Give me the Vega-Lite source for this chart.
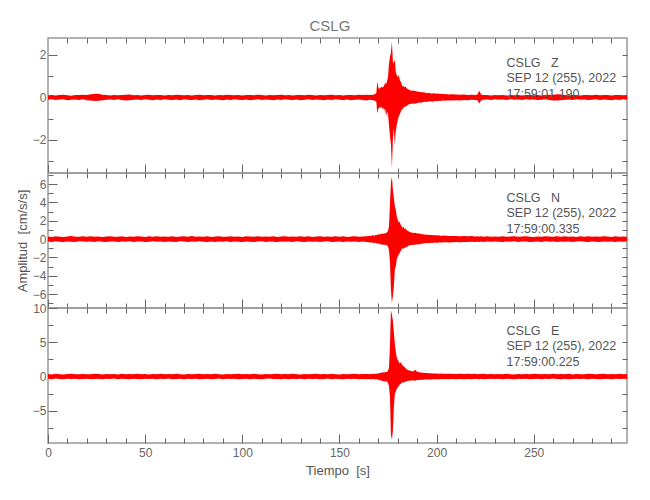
{
"$schema": "https://vega.github.io/schema/vega-lite/v6.json",
"padding": {"left": 15, "top": 18, "right": 23, "bottom": 5},
"background": "white",
"title": {"text": "CSLG", "fontSize": 15, "color": "#777", "fontWeight": "normal", "font": "Liberation Sans, sans-serif", "anchor": "middle", "offset": 3, "dx": 8},
"spacing": 0,
"bounds": "flush",
"config": {
  "view": {"stroke": "#999", "strokeWidth": 1.5},
  "axis": {"domain": false, "grid": false, "tickColor": "#666", "tickWidth": 1, "labelColor": "#666", "labelFont": "Liberation Sans, sans-serif", "labelFontSize": 12, "labelFlush": false, "labelOverlap": false, "titleFont": "Liberation Sans, sans-serif", "titleFontSize": 13, "titleFontWeight": "normal", "titleColor": "#555"}
},
"datasets": {
"w": [
{"t":0,"zl":-0.11,"zh":0.10,"nl":-0.26,"nh":0.28,"el":-0.34,"eh":0.36},
{"t":2,"zl":-0.09,"zh":0.12,"nl":-0.30,"nh":0.24,"el":-0.38,"eh":0.31},
{"t":4,"zl":-0.12,"zh":0.09,"nl":-0.23,"nh":0.31,"el":-0.30,"eh":0.39},
{"t":6,"zl":-0.10,"zh":0.11,"nl":-0.29,"nh":0.26,"el":-0.36,"eh":0.33},
{"t":8,"zl":-0.08,"zh":0.13,"nl":-0.32,"nh":0.22,"el":-0.40,"eh":0.29},
{"t":10,"zl":-0.13,"zh":0.10,"nl":-0.25,"nh":0.29,"el":-0.33,"eh":0.37},
{"t":12,"zl":-0.11,"zh":0.08,"nl":-0.28,"nh":0.33,"el":-0.37,"eh":0.41},
{"t":14,"zl":-0.10,"zh":0.12,"nl":-0.31,"nh":0.25,"el":-0.31,"eh":0.34},
{"t":16,"zl":-0.12,"zh":0.11,"nl":-0.24,"nh":0.27,"el":-0.39,"eh":0.32},
{"t":18,"zl":-0.09,"zh":0.13,"nl":-0.27,"nh":0.30,"el":-0.35,"eh":0.38},
{"t":20,"zl":-0.13,"zh":0.12,"nl":-0.29,"nh":0.27,"el":-0.32,"eh":0.35},
{"t":22,"zl":-0.14,"zh":0.15,"nl":-0.26,"nh":0.31,"el":-0.38,"eh":0.33},
{"t":24,"zl":-0.17,"zh":0.16,"nl":-0.30,"nh":0.26,"el":-0.36,"eh":0.40},
{"t":26,"zl":-0.16,"zh":0.17,"nl":-0.24,"nh":0.29,"el":-0.31,"eh":0.36},
{"t":28,"zl":-0.13,"zh":0.13,"nl":-0.28,"nh":0.24,"el":-0.39,"eh":0.31},
{"t":30,"zl":-0.11,"zh":0.12,"nl":-0.31,"nh":0.28,"el":-0.34,"eh":0.38},
{"t":32,"zl":-0.10,"zh":0.09,"nl":-0.25,"nh":0.32,"el":-0.37,"eh":0.33},
{"t":34,"zl":-0.12,"zh":0.11,"nl":-0.27,"nh":0.25,"el":-0.30,"eh":0.36},
{"t":36,"zl":-0.09,"zh":0.10,"nl":-0.32,"nh":0.27,"el":-0.40,"eh":0.30},
{"t":38,"zl":-0.12,"zh":0.12,"nl":-0.26,"nh":0.30,"el":-0.33,"eh":0.39},
{"t":40,"zl":-0.14,"zh":0.13,"nl":-0.29,"nh":0.24,"el":-0.36,"eh":0.34},
{"t":42,"zl":-0.13,"zh":0.14,"nl":-0.23,"nh":0.29,"el":-0.38,"eh":0.37},
{"t":44,"zl":-0.11,"zh":0.10,"nl":-0.30,"nh":0.26,"el":-0.32,"eh":0.32},
{"t":46,"zl":-0.10,"zh":0.12,"nl":-0.27,"nh":0.31,"el":-0.35,"eh":0.40},
{"t":48,"zl":-0.12,"zh":0.09,"nl":-0.25,"nh":0.28,"el":-0.39,"eh":0.35},
{"t":50,"zl":-0.09,"zh":0.11,"nl":-0.31,"nh":0.23,"el":-0.31,"eh":0.38},
{"t":52,"zl":-0.11,"zh":0.13,"nl":-0.28,"nh":0.30,"el":-0.37,"eh":0.31},
{"t":54,"zl":-0.13,"zh":0.10,"nl":-0.24,"nh":0.27,"el":-0.34,"eh":0.36},
{"t":56,"zl":-0.10,"zh":0.12,"nl":-0.29,"nh":0.32,"el":-0.40,"eh":0.33},
{"t":58,"zl":-0.12,"zh":0.11,"nl":-0.26,"nh":0.25,"el":-0.33,"eh":0.39},
{"t":60,"zl":-0.09,"zh":0.09,"nl":-0.32,"nh":0.29,"el":-0.36,"eh":0.34},
{"t":62,"zl":-0.11,"zh":0.12,"nl":-0.25,"nh":0.26,"el":-0.30,"eh":0.37},
{"t":64,"zl":-0.12,"zh":0.10,"nl":-0.28,"nh":0.31,"el":-0.38,"eh":0.32},
{"t":66,"zl":-0.10,"zh":0.13,"nl":-0.30,"nh":0.24,"el":-0.35,"eh":0.40},
{"t":68,"zl":-0.13,"zh":0.11,"nl":-0.23,"nh":0.28,"el":-0.32,"eh":0.35},
{"t":70,"zl":-0.09,"zh":0.10,"nl":-0.27,"nh":0.30,"el":-0.39,"eh":0.31},
{"t":72,"zl":-0.11,"zh":0.12,"nl":-0.31,"nh":0.27,"el":-0.34,"eh":0.38},
{"t":74,"zl":-0.12,"zh":0.09,"nl":-0.26,"nh":0.33,"el":-0.37,"eh":0.33},
{"t":76,"zl":-0.10,"zh":0.11,"nl":-0.29,"nh":0.25,"el":-0.31,"eh":0.36},
{"t":78,"zl":-0.13,"zh":0.13,"nl":-0.24,"nh":0.29,"el":-0.40,"eh":0.39},
{"t":80,"zl":-0.11,"zh":0.10,"nl":-0.28,"nh":0.26,"el":-0.35,"eh":0.32},
{"t":82,"zl":-0.09,"zh":0.12,"nl":-0.32,"nh":0.31,"el":-0.33,"eh":0.37},
{"t":84,"zl":-0.12,"zh":0.11,"nl":-0.25,"nh":0.24,"el":-0.38,"eh":0.34},
{"t":86,"zl":-0.10,"zh":0.09,"nl":-0.30,"nh":0.28,"el":-0.36,"eh":0.40},
{"t":88,"zl":-0.11,"zh":0.12,"nl":-0.27,"nh":0.32,"el":-0.30,"eh":0.35},
{"t":90,"zl":-0.13,"zh":0.10,"nl":-0.29,"nh":0.27,"el":-0.39,"eh":0.31},
{"t":92,"zl":-0.10,"zh":0.13,"nl":-0.24,"nh":0.25,"el":-0.34,"eh":0.38},
{"t":94,"zl":-0.12,"zh":0.11,"nl":-0.31,"nh":0.30,"el":-0.37,"eh":0.33},
{"t":96,"zl":-0.09,"zh":0.10,"nl":-0.26,"nh":0.26,"el":-0.32,"eh":0.36},
{"t":98,"zl":-0.11,"zh":0.12,"nl":-0.28,"nh":0.29,"el":-0.40,"eh":0.39},
{"t":100,"zl":-0.12,"zh":0.09,"nl":-0.30,"nh":0.24,"el":-0.35,"eh":0.32},
{"t":102,"zl":-0.10,"zh":0.11,"nl":-0.25,"nh":0.31,"el":-0.31,"eh":0.37},
{"t":104,"zl":-0.13,"zh":0.12,"nl":-0.29,"nh":0.28,"el":-0.38,"eh":0.34},
{"t":106,"zl":-0.11,"zh":0.10,"nl":-0.32,"nh":0.25,"el":-0.33,"eh":0.40},
{"t":108,"zl":-0.09,"zh":0.13,"nl":-0.27,"nh":0.32,"el":-0.36,"eh":0.35},
{"t":110,"zl":-0.12,"zh":0.11,"nl":-0.24,"nh":0.27,"el":-0.39,"eh":0.31},
{"t":112,"zl":-0.10,"zh":0.09,"nl":-0.30,"nh":0.29,"el":-0.34,"eh":0.38},
{"t":114,"zl":-0.11,"zh":0.12,"nl":-0.26,"nh":0.26,"el":-0.30,"eh":0.33},
{"t":116,"zl":-0.13,"zh":0.10,"nl":-0.28,"nh":0.30,"el":-0.37,"eh":0.36},
{"t":118,"zl":-0.10,"zh":0.11,"nl":-0.31,"nh":0.24,"el":-0.35,"eh":0.39},
{"t":120,"zl":-0.12,"zh":0.13,"nl":-0.25,"nh":0.28,"el":-0.40,"eh":0.32},
{"t":122,"zl":-0.09,"zh":0.10,"nl":-0.29,"nh":0.31,"el":-0.32,"eh":0.37},
{"t":124,"zl":-0.11,"zh":0.12,"nl":-0.27,"nh":0.25,"el":-0.38,"eh":0.34},
{"t":126,"zl":-0.12,"zh":0.09,"nl":-0.32,"nh":0.29,"el":-0.33,"eh":0.40},
{"t":128,"zl":-0.10,"zh":0.11,"nl":-0.24,"nh":0.27,"el":-0.36,"eh":0.35},
{"t":130,"zl":-0.13,"zh":0.12,"nl":-0.28,"nh":0.32,"el":-0.31,"eh":0.31},
{"t":132,"zl":-0.11,"zh":0.10,"nl":-0.30,"nh":0.26,"el":-0.39,"eh":0.38},
{"t":134,"zl":-0.09,"zh":0.13,"nl":-0.26,"nh":0.30,"el":-0.34,"eh":0.33},
{"t":136,"zl":-0.12,"zh":0.11,"nl":-0.29,"nh":0.24,"el":-0.37,"eh":0.36},
{"t":138,"zl":-0.10,"zh":0.09,"nl":-0.25,"nh":0.28,"el":-0.32,"eh":0.39},
{"t":140,"zl":-0.11,"zh":0.12,"nl":-0.31,"nh":0.31,"el":-0.40,"eh":0.32},
{"t":142,"zl":-0.13,"zh":0.10,"nl":-0.27,"nh":0.25,"el":-0.35,"eh":0.37},
{"t":144,"zl":-0.10,"zh":0.11,"nl":-0.24,"nh":0.29,"el":-0.30,"eh":0.34},
{"t":146,"zl":-0.12,"zh":0.13,"nl":-0.30,"nh":0.27,"el":-0.38,"eh":0.40},
{"t":148,"zl":-0.09,"zh":0.10,"nl":-0.28,"nh":0.32,"el":-0.33,"eh":0.35},
{"t":150,"zl":-0.11,"zh":0.12,"nl":-0.26,"nh":0.26,"el":-0.36,"eh":0.31},
{"t":152,"zl":-0.12,"zh":0.09,"nl":-0.32,"nh":0.30,"el":-0.39,"eh":0.38},
{"t":154,"zl":-0.10,"zh":0.11,"nl":-0.25,"nh":0.24,"el":-0.31,"eh":0.33},
{"t":156,"zl":-0.13,"zh":0.12,"nl":-0.29,"nh":0.28,"el":-0.37,"eh":0.36},
{"t":158,"zl":-0.11,"zh":0.10,"nl":-0.27,"nh":0.31,"el":-0.34,"eh":0.39},
{"t":160,"zl":-0.10,"zh":0.13,"nl":-0.30,"nh":0.27,"el":-0.40,"eh":0.34},
{"t":162,"zl":-0.12,"zh":0.11,"nl":-0.26,"nh":0.29,"el":-0.35,"eh":0.37},
{"t":164,"zl":-0.14,"zh":0.13,"nl":-0.31,"nh":0.30,"el":-0.38,"eh":0.36},
{"t":165,"zl":-0.12,"zh":0.11,"nl":-0.33,"nh":0.35,"el":-0.36,"eh":0.38},
{"t":166,"zl":-0.11,"zh":0.13,"nl":-0.38,"nh":0.34,"el":-0.40,"eh":0.35},
{"t":167,"zl":-0.13,"zh":0.12,"nl":-0.36,"nh":0.41,"el":-0.37,"eh":0.41},
{"t":168,"zl":-0.14,"zh":0.15,"nl":-0.42,"nh":0.38,"el":-0.39,"eh":0.37},
{"t":168.5,"zl":-0.18,"zh":0.16,"nl":-0.40,"nh":0.45,"el":-0.42,"eh":0.40},
{"t":169,"zl":-0.20,"zh":0.22,"nl":-0.47,"nh":0.43,"el":-0.38,"eh":0.44},
{"t":169.5,"zl":-0.74,"zh":0.75,"nl":-0.45,"nh":0.50,"el":-0.41,"eh":0.39},
{"t":170,"zl":-0.55,"zh":0.48,"nl":-0.52,"nh":0.47,"el":-0.46,"eh":0.43},
{"t":170.5,"zl":-0.45,"zh":0.40,"nl":-0.48,"nh":0.55,"el":-0.50,"eh":0.48},
{"t":171,"zl":-0.50,"zh":0.44,"nl":-0.55,"nh":0.50,"el":-0.58,"eh":0.52},
{"t":171.5,"zl":-0.42,"zh":0.52,"nl":-0.60,"nh":0.58,"el":-0.52,"eh":0.60},
{"t":172,"zl":-0.55,"zh":0.46,"nl":-0.57,"nh":0.62,"el":-0.65,"eh":0.55},
{"t":172.5,"zl":-0.48,"zh":0.50,"nl":-0.63,"nh":0.56,"el":-0.70,"eh":0.62},
{"t":173,"zl":-0.62,"zh":0.55,"nl":-0.58,"nh":0.65,"el":-0.62,"eh":0.58},
{"t":173.5,"zl":-0.52,"zh":0.70,"nl":-0.66,"nh":0.60,"el":-0.84,"eh":0.63},
{"t":174,"zl":-0.90,"zh":0.62,"nl":-0.62,"nh":0.68,"el":-0.60,"eh":0.70},
{"t":174.5,"zl":-0.65,"zh":0.78,"nl":-0.70,"nh":0.75,"el":-0.75,"eh":0.66},
{"t":175,"zl":-0.80,"zh":0.95,"nl":-0.80,"nh":0.90,"el":-0.95,"eh":0.85},
{"t":175.5,"zl":-1.30,"zh":1.60,"nl":-1.20,"nh":1.40,"el":-1.40,"eh":1.30},
{"t":176,"zl":-1.80,"zh":1.90,"nl":-2.50,"nh":3.80,"el":-3.00,"eh":4.50},
{"t":176.5,"zl":-2.20,"zh":2.10,"nl":-5.50,"nh":6.20,"el":-8.50,"eh":9.70},
{"t":177,"zl":-3.33,"zh":2.63,"nl":-6.98,"nh":6.76,"el":-9.20,"eh":9.00},
{"t":177.5,"zl":-2.00,"zh":1.70,"nl":-6.20,"nh":5.40,"el":-8.00,"eh":8.20},
{"t":178,"zl":-1.44,"zh":1.60,"nl":-5.20,"nh":4.50,"el":-4.50,"eh":6.50},
{"t":178.5,"zl":-2.23,"zh":1.80,"nl":-3.30,"nh":3.60,"el":-2.60,"eh":4.80},
{"t":179,"zl":-1.60,"zh":1.20,"nl":-3.00,"nh":3.20,"el":-2.20,"eh":3.60},
{"t":179.5,"zl":-1.29,"zh":1.06,"nl":-2.20,"nh":2.50,"el":-1.80,"eh":2.80},
{"t":180,"zl":-1.10,"zh":0.95,"nl":-1.90,"nh":2.10,"el":-1.60,"eh":2.40},
{"t":180.5,"zl":-0.90,"zh":1.05,"nl":-1.70,"nh":1.80,"el":-1.40,"eh":2.20},
{"t":181,"zl":-0.80,"zh":0.85,"nl":-1.50,"nh":1.90,"el":-1.20,"eh":1.90},
{"t":181.5,"zl":-0.70,"zh":0.75,"nl":-1.30,"nh":1.60,"el":-1.10,"eh":2.10},
{"t":182,"zl":-0.58,"zh":0.62,"nl":-1.10,"nh":1.40,"el":-0.95,"eh":1.85},
{"t":182.5,"zl":-0.55,"zh":0.50,"nl":-1.00,"nh":1.20,"el":-0.84,"eh":1.60},
{"t":183,"zl":-0.48,"zh":0.55,"nl":-1.05,"nh":1.35,"el":-0.90,"eh":1.50},
{"t":183.5,"zl":-0.45,"zh":0.48,"nl":-0.95,"nh":1.10,"el":-0.80,"eh":1.40},
{"t":184,"zl":-0.40,"zh":0.52,"nl":-0.90,"nh":1.15,"el":-0.75,"eh":1.25},
{"t":184.5,"zl":-0.42,"zh":0.45,"nl":-0.85,"nh":1.00,"el":-0.70,"eh":1.10},
{"t":185,"zl":-0.38,"zh":0.40,"nl":-0.80,"nh":0.95,"el":-0.66,"eh":1.00},
{"t":185.5,"zl":-0.33,"zh":0.38,"nl":-0.72,"nh":0.85,"el":-0.62,"eh":0.92},
{"t":186,"zl":-0.32,"zh":0.35,"nl":-0.70,"nh":0.80,"el":-0.60,"eh":0.88},
{"t":187,"zl":-0.30,"zh":0.32,"nl":-0.65,"nh":0.72,"el":-0.58,"eh":0.80},
{"t":188,"zl":-0.28,"zh":0.33,"nl":-0.62,"nh":0.68,"el":-0.55,"eh":0.75},
{"t":189,"zl":-0.30,"zh":0.30,"nl":-0.60,"nh":0.70,"el":-0.60,"eh":1.00},
{"t":190,"zl":-0.26,"zh":0.28,"nl":-0.55,"nh":0.62,"el":-0.52,"eh":0.68},
{"t":191,"zl":-0.24,"zh":0.27,"nl":-0.58,"nh":0.60,"el":-0.50,"eh":0.62},
{"t":192,"zl":-0.25,"zh":0.24,"nl":-0.50,"nh":0.55,"el":-0.48,"eh":0.60},
{"t":193,"zl":-0.22,"zh":0.25,"nl":-0.48,"nh":0.52,"el":-0.46,"eh":0.55},
{"t":194,"zl":-0.20,"zh":0.23,"nl":-0.45,"nh":0.48,"el":-0.45,"eh":0.52},
{"t":195,"zl":-0.21,"zh":0.20,"nl":-0.42,"nh":0.50,"el":-0.44,"eh":0.50},
{"t":196,"zl":-0.19,"zh":0.22,"nl":-0.44,"nh":0.45,"el":-0.42,"eh":0.48},
{"t":197,"zl":-0.18,"zh":0.19,"nl":-0.40,"nh":0.46,"el":-0.43,"eh":0.47},
{"t":198,"zl":-0.20,"zh":0.18,"nl":-0.41,"nh":0.42,"el":-0.40,"eh":0.46},
{"t":199,"zl":-0.17,"zh":0.20,"nl":-0.38,"nh":0.44,"el":-0.41,"eh":0.44},
{"t":200,"zl":-0.18,"zh":0.17,"nl":-0.39,"nh":0.40,"el":-0.39,"eh":0.45},
{"t":201,"zl":-0.16,"zh":0.18,"nl":-0.37,"nh":0.41,"el":-0.40,"eh":0.42},
{"t":202,"zl":-0.17,"zh":0.16,"nl":-0.36,"nh":0.38,"el":-0.38,"eh":0.43},
{"t":203,"zl":-0.15,"zh":0.17,"nl":-0.38,"nh":0.37,"el":-0.37,"eh":0.41},
{"t":204,"zl":-0.16,"zh":0.15,"nl":-0.35,"nh":0.39,"el":-0.39,"eh":0.40},
{"t":205,"zl":-0.14,"zh":0.16,"nl":-0.34,"nh":0.36,"el":-0.36,"eh":0.42},
{"t":206,"zl":-0.15,"zh":0.14,"nl":-0.36,"nh":0.35,"el":-0.38,"eh":0.39},
{"t":208,"zl":-0.14,"zh":0.15,"nl":-0.33,"nh":0.34,"el":-0.37,"eh":0.40},
{"t":210,"zl":-0.13,"zh":0.14,"nl":-0.31,"nh":0.35,"el":-0.39,"eh":0.38},
{"t":212,"zl":-0.15,"zh":0.13,"nl":-0.34,"nh":0.32,"el":-0.36,"eh":0.41},
{"t":214,"zl":-0.12,"zh":0.14,"nl":-0.30,"nh":0.33,"el":-0.40,"eh":0.37},
{"t":216,"zl":-0.13,"zh":0.12,"nl":-0.32,"nh":0.30,"el":-0.35,"eh":0.39},
{"t":218,"zl":-0.11,"zh":0.13,"nl":-0.29,"nh":0.33,"el":-0.38,"eh":0.36},
{"t":220,"zl":-0.12,"zh":0.11,"nl":-0.31,"nh":0.28,"el":-0.34,"eh":0.40},
{"t":221,"zl":-0.13,"zh":0.14,"nl":-0.28,"nh":0.31,"el":-0.37,"eh":0.35},
{"t":222,"zl":-0.28,"zh":0.32,"nl":-0.30,"nh":0.29,"el":-0.39,"eh":0.38},
{"t":223,"zl":-0.13,"zh":0.13,"nl":-0.27,"nh":0.32,"el":-0.33,"eh":0.36},
{"t":224,"zl":-0.11,"zh":0.12,"nl":-0.30,"nh":0.27,"el":-0.38,"eh":0.39},
{"t":226,"zl":-0.10,"zh":0.11,"nl":-0.26,"nh":0.30,"el":-0.35,"eh":0.34},
{"t":228,"zl":-0.12,"zh":0.09,"nl":-0.29,"nh":0.26,"el":-0.31,"eh":0.38},
{"t":230,"zl":-0.09,"zh":0.11,"nl":-0.25,"nh":0.29,"el":-0.37,"eh":0.33},
{"t":232,"zl":-0.11,"zh":0.10,"nl":-0.28,"nh":0.27,"el":-0.34,"eh":0.37},
{"t":234,"zl":-0.10,"zh":0.12,"nl":-0.31,"nh":0.31,"el":-0.39,"eh":0.32},
{"t":236,"zl":-0.12,"zh":0.09,"nl":-0.26,"nh":0.25,"el":-0.32,"eh":0.39},
{"t":238,"zl":-0.09,"zh":0.11,"nl":-0.29,"nh":0.28,"el":-0.36,"eh":0.35},
{"t":240,"zl":-0.11,"zh":0.10,"nl":-0.24,"nh":0.30,"el":-0.40,"eh":0.31},
{"t":242,"zl":-0.10,"zh":0.12,"nl":-0.30,"nh":0.26,"el":-0.33,"eh":0.38},
{"t":244,"zl":-0.12,"zh":0.09,"nl":-0.27,"nh":0.29,"el":-0.37,"eh":0.34},
{"t":246,"zl":-0.09,"zh":0.11,"nl":-0.25,"nh":0.32,"el":-0.31,"eh":0.37},
{"t":248,"zl":-0.11,"zh":0.12,"nl":-0.31,"nh":0.27,"el":-0.38,"eh":0.33},
{"t":250,"zl":-0.10,"zh":0.10,"nl":-0.28,"nh":0.24,"el":-0.35,"eh":0.40},
{"t":252,"zl":-0.12,"zh":0.11,"nl":-0.26,"nh":0.29,"el":-0.32,"eh":0.36},
{"t":254,"zl":-0.11,"zh":0.09,"nl":-0.30,"nh":0.26,"el":-0.39,"eh":0.32},
{"t":256,"zl":-0.09,"zh":0.12,"nl":-0.24,"nh":0.31,"el":-0.34,"eh":0.38},
{"t":258,"zl":-0.12,"zh":0.13,"nl":-0.29,"nh":0.28,"el":-0.37,"eh":0.35},
{"t":260,"zl":-0.14,"zh":0.13,"nl":-0.27,"nh":0.25,"el":-0.30,"eh":0.39},
{"t":262,"zl":-0.15,"zh":0.15,"nl":-0.31,"nh":0.30,"el":-0.36,"eh":0.33},
{"t":264,"zl":-0.13,"zh":0.14,"nl":-0.26,"nh":0.27,"el":-0.40,"eh":0.37},
{"t":266,"zl":-0.11,"zh":0.12,"nl":-0.28,"nh":0.32,"el":-0.33,"eh":0.34},
{"t":268,"zl":-0.10,"zh":0.10,"nl":-0.25,"nh":0.26,"el":-0.38,"eh":0.40},
{"t":270,"zl":-0.12,"zh":0.11,"nl":-0.30,"nh":0.29,"el":-0.35,"eh":0.31},
{"t":272,"zl":-0.09,"zh":0.12,"nl":-0.27,"nh":0.24,"el":-0.31,"eh":0.38},
{"t":274,"zl":-0.11,"zh":0.09,"nl":-0.24,"nh":0.30,"el":-0.37,"eh":0.35},
{"t":276,"zl":-0.10,"zh":0.11,"nl":-0.29,"nh":0.27,"el":-0.34,"eh":0.32},
{"t":278,"zl":-0.12,"zh":0.12,"nl":-0.32,"nh":0.31,"el":-0.39,"eh":0.39},
{"t":280,"zl":-0.11,"zh":0.10,"nl":-0.26,"nh":0.25,"el":-0.32,"eh":0.36},
{"t":282,"zl":-0.09,"zh":0.13,"nl":-0.28,"nh":0.29,"el":-0.36,"eh":0.33},
{"t":284,"zl":-0.12,"zh":0.10,"nl":-0.31,"nh":0.26,"el":-0.40,"eh":0.37},
{"t":286,"zl":-0.10,"zh":0.11,"nl":-0.25,"nh":0.32,"el":-0.35,"eh":0.40},
{"t":288,"zl":-0.11,"zh":0.12,"nl":-0.29,"nh":0.28,"el":-0.33,"eh":0.34},
{"t":290,"zl":-0.13,"zh":0.09,"nl":-0.27,"nh":0.24,"el":-0.38,"eh":0.38},
{"t":292,"zl":-0.10,"zh":0.11,"nl":-0.30,"nh":0.30,"el":-0.31,"eh":0.35},
{"t":294,"zl":-0.12,"zh":0.12,"nl":-0.26,"nh":0.27,"el":-0.37,"eh":0.39},
{"t":296,"zl":-0.09,"zh":0.10,"nl":-0.28,"nh":0.29,"el":-0.34,"eh":0.33},
{"t":298,"zl":-0.11,"zh":0.11,"nl":-0.27,"nh":0.26,"el":-0.36,"eh":0.37}
]
},
"vconcat": [
{
  "width": 579, "height": 135,
  "resolve": {"axis": {"x": "independent", "y": "independent"}},
  "layer": [
    {"data": {"name": "w"}, "mark": {"type": "area", "color": "#ff0000"},
     "encoding": {
      "x": {"field": "t", "type": "quantitative", "scale": {"domain": [0, 298], "nice": false, "zero": false}, "axis": {"orient": "bottom", "values": [0,50,100,150,200,250], "tickSize": -9, "labels": false, "title": null}},
      "y": {"field": "zl", "type": "quantitative", "scale": {"domain": [-3.56, 2.8], "nice": false, "zero": false}, "axis": {"orient": "left", "values": [-2,0,2], "tickSize": -9, "labelPadding": 11, "title": null}},
      "y2": {"field": "zh"}}},
    {"data": {"values": [{}]}, "mark": {"type": "point", "opacity": 0},
     "encoding": {
      "x": {"datum": 0, "type": "quantitative", "scale": {"domain": [0, 298], "nice": false, "zero": false}, "axis": {"orient": "bottom", "values": [10,20,30,40,60,70,80,90,110,120,130,140,160,170,180,190,210,220,230,240,260,270,280,290], "tickSize": -5, "labels": false, "title": null}},
      "y": {"datum": 0, "type": "quantitative", "scale": {"domain": [-3.56, 2.8], "nice": false, "zero": false}, "axis": {"orient": "left", "values": [-3,-1,1], "tickSize": -5, "labels": false, "title": null}}}},
    {"data": {"values": [{}]}, "mark": {"type": "point", "opacity": 0},
     "encoding": {
      "x": {"datum": 0, "type": "quantitative", "scale": {"domain": [0, 298], "nice": false, "zero": false}, "axis": {"orient": "top", "values": [10,20,30,40,50,60,70,80,90,100,110,120,130,140,150,160,170,180,190,200,210,220,230,240,250,260,270,280,290], "tickSize": -5, "labels": false, "title": null}},
      "y": {"datum": 0, "type": "quantitative", "scale": {"domain": [-3.56, 2.8], "nice": false, "zero": false}, "axis": {"orient": "right", "values": [-3,-2,-1,0,1,2], "tickSize": -5, "labels": false, "title": null}}}},
    {"data": {"values": [{}]}, "mark": {"type": "text", "align": "left", "baseline": "top", "fontSize": 12.5, "lineHeight": 15.5, "color": "#555", "font": "Liberation Sans, sans-serif"},
     "encoding": {
      "x": {"datum": 236, "type": "quantitative", "scale": {"domain": [0, 298], "nice": false, "zero": false}, "axis": null},
      "y": {"datum": 1.92, "type": "quantitative", "scale": {"domain": [-3.56, 2.8], "nice": false, "zero": false}, "axis": null},
      "text": {"value": ["CSLG\u00a0\u00a0\u00a0Z", "SEP 12 (255), 2022", "17:59:01.190"]}}}
  ]
},
{
  "width": 579, "height": 135,
  "resolve": {"axis": {"x": "independent", "y": "independent"}},
  "layer": [
    {"data": {"name": "w"}, "mark": {"type": "area", "color": "#ff0000"},
     "encoding": {
      "x": {"field": "t", "type": "quantitative", "scale": {"domain": [0, 298], "nice": false, "zero": false}, "axis": {"orient": "bottom", "values": [0,50,100,150,200,250], "tickSize": -9, "labels": false, "title": null}},
      "y": {"field": "nl", "type": "quantitative", "scale": {"domain": [-7.5, 7.2], "nice": false, "zero": false}, "axis": {"orient": "left", "values": [-6,-4,-2,0,2,4,6], "tickSize": -9, "labelPadding": 11, "title": "Amplitud\u00a0\u00a0[cm/s/s]", "titlePadding": 3}},
      "y2": {"field": "nh"}}},
    {"data": {"values": [{}]}, "mark": {"type": "point", "opacity": 0},
     "encoding": {
      "x": {"datum": 0, "type": "quantitative", "scale": {"domain": [0, 298], "nice": false, "zero": false}, "axis": {"orient": "bottom", "values": [10,20,30,40,60,70,80,90,110,120,130,140,160,170,180,190,210,220,230,240,260,270,280,290], "tickSize": -5, "labels": false, "title": null}},
      "y": {"datum": 0, "type": "quantitative", "scale": {"domain": [-7.5, 7.2], "nice": false, "zero": false}, "axis": {"orient": "left", "values": [-7,-5,-3,-1,1,3,5,7], "tickSize": -5, "labels": false, "title": null}}}},
    {"data": {"values": [{}]}, "mark": {"type": "point", "opacity": 0},
     "encoding": {
      "x": {"datum": 0, "type": "quantitative", "scale": {"domain": [0, 298], "nice": false, "zero": false}, "axis": {"orient": "top", "values": [10,20,30,40,50,60,70,80,90,100,110,120,130,140,150,160,170,180,190,200,210,220,230,240,250,260,270,280,290], "tickSize": -5, "labels": false, "title": null}},
      "y": {"datum": 0, "type": "quantitative", "scale": {"domain": [-7.5, 7.2], "nice": false, "zero": false}, "axis": {"orient": "right", "values": [-7,-6,-5,-4,-3,-2,-1,0,1,2,3,4,5,6,7], "tickSize": -5, "labels": false, "title": null}}}},
    {"data": {"values": [{}]}, "mark": {"type": "text", "align": "left", "baseline": "top", "fontSize": 12.5, "lineHeight": 15.5, "color": "#555", "font": "Liberation Sans, sans-serif"},
     "encoding": {
      "x": {"datum": 236, "type": "quantitative", "scale": {"domain": [0, 298], "nice": false, "zero": false}, "axis": null},
      "y": {"datum": 5.17, "type": "quantitative", "scale": {"domain": [-7.5, 7.2], "nice": false, "zero": false}, "axis": null},
      "text": {"value": ["CSLG\u00a0\u00a0\u00a0N", "SEP 12 (255), 2022", "17:59:00.335"]}}}
  ]
},
{
  "width": 579, "height": 135,
  "resolve": {"axis": {"x": "independent", "y": "independent"}},
  "layer": [
    {"data": {"name": "w"}, "mark": {"type": "area", "color": "#ff0000"},
     "encoding": {
      "x": {"field": "t", "type": "quantitative", "scale": {"domain": [0, 298], "nice": false, "zero": false}, "axis": {"orient": "bottom", "values": [0,50,100,150,200,250], "tickSize": -9, "labelPadding": 13, "title": "Tiempo\u00a0\u00a0[s]", "titlePadding": 6}},
      "y": {"field": "el", "type": "quantitative", "scale": {"domain": [-9.7, 10], "nice": false, "zero": false}, "axis": {"orient": "left", "values": [-5,0,5,10], "tickSize": -9, "labelPadding": 11, "title": null}},
      "y2": {"field": "eh"}}},
    {"data": {"values": [{}]}, "mark": {"type": "point", "opacity": 0},
     "encoding": {
      "x": {"datum": 0, "type": "quantitative", "scale": {"domain": [0, 298], "nice": false, "zero": false}, "axis": {"orient": "bottom", "values": [10,20,30,40,60,70,80,90,110,120,130,140,160,170,180,190,210,220,230,240,260,270,280,290], "tickSize": -5, "labels": false, "title": null}},
      "y": {"datum": 0, "type": "quantitative", "scale": {"domain": [-9.7, 10], "nice": false, "zero": false}, "axis": {"orient": "left", "values": [-7.5,-2.5,2.5,7.5], "tickSize": -5, "labels": false, "title": null}}}},
    {"data": {"values": [{}]}, "mark": {"type": "point", "opacity": 0},
     "encoding": {
      "x": {"datum": 0, "type": "quantitative", "scale": {"domain": [0, 298], "nice": false, "zero": false}, "axis": {"orient": "top", "values": [10,20,30,40,50,60,70,80,90,100,110,120,130,140,150,160,170,180,190,200,210,220,230,240,250,260,270,280,290], "tickSize": -5, "labels": false, "title": null}},
      "y": {"datum": 0, "type": "quantitative", "scale": {"domain": [-9.7, 10], "nice": false, "zero": false}, "axis": {"orient": "right", "values": [-7.5,-5,-2.5,0,2.5,5,7.5], "tickSize": -5, "labels": false, "title": null}}}},
    {"data": {"values": [{}]}, "mark": {"type": "text", "align": "left", "baseline": "top", "fontSize": 12.5, "lineHeight": 15.5, "color": "#555", "font": "Liberation Sans, sans-serif"},
     "encoding": {
      "x": {"datum": 236, "type": "quantitative", "scale": {"domain": [0, 298], "nice": false, "zero": false}, "axis": null},
      "y": {"datum": 7.52, "type": "quantitative", "scale": {"domain": [-9.7, 10], "nice": false, "zero": false}, "axis": null},
      "text": {"value": ["CSLG\u00a0\u00a0\u00a0E", "SEP 12 (255), 2022", "17:59:00.225"]}}}
  ]
}
]
}
